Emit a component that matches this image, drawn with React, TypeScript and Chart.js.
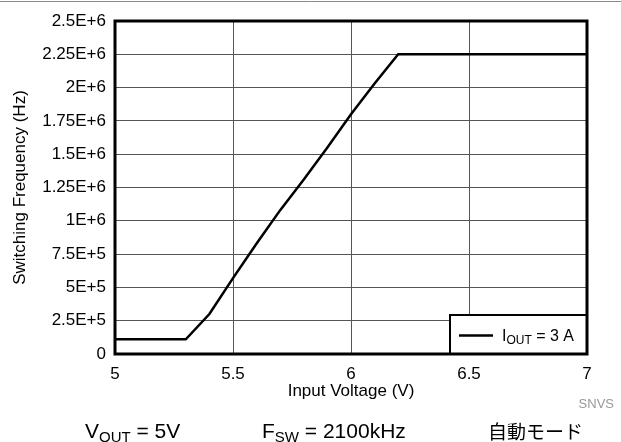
import React, { useEffect, useRef } from "react";
import { Chart, registerables } from "chart.js";

Chart.register(...registerables);

// ---- data ----
const inputVoltage = [5, 5.3, 5.4, 5.5, 5.6, 5.7, 5.8, 5.9, 6.0, 6.1, 6.2, 7];
const switchingFreq = [110000, 110000, 300000, 570000, 830000, 1080000, 1310000, 1550000, 1800000, 2030000, 2250000, 2250000];
const yTickLabels = ["0", "2.5E+5", "5E+5", "7.5E+5", "1E+6", "1.25E+6", "1.5E+6", "1.75E+6", "2E+6", "2.25E+6", "2.5E+6"];
const xTickValues = [5, 5.5, 6, 6.5, 7];

const FONT = "'Liberation Sans', Arial, Helvetica, sans-serif";

function drawSubText(
  ctx: CanvasRenderingContext2D,
  parts: { t: string; sub?: boolean }[],
  x: number,
  y: number,
  size: number,
  subSize: number,
  subDrop: number
) {
  let cx = x;
  ctx.textAlign = "left";
  ctx.textBaseline = "alphabetic";
  for (const p of parts) {
    ctx.font = `${p.sub ? subSize : size}px ${FONT}`;
    ctx.fillText(p.t, cx, p.sub ? y + subDrop : y);
    cx += ctx.measureText(p.t).width;
  }
}

const decorPlugin = {
  id: "decor",
  afterDatasetsDraw(chart: any) {
    const ctx = chart.ctx as CanvasRenderingContext2D;
    const a = chart.chartArea;
    // legend box
    const lw = 137, lh = 39;
    const lx = a.right - lw, ly = a.bottom - lh;
    ctx.save();
    ctx.fillStyle = "#fff";
    ctx.fillRect(lx, ly, lw, lh);
    ctx.strokeStyle = "#000";
    ctx.lineWidth = 2;
    ctx.strokeRect(lx, ly, lw, lh);
    ctx.beginPath();
    ctx.lineWidth = 2.5;
    ctx.moveTo(lx + 9, ly + 20.5);
    ctx.lineTo(lx + 43, ly + 20.5);
    ctx.stroke();
    ctx.fillStyle = "#000";
    drawSubText(ctx, [{ t: "I" }, { t: "OUT", sub: true }, { t: " = 3 A" }], lx + 52, ly + 26, 16, 12, 3);
    ctx.restore();
  },
  afterDraw(chart: any) {
    const ctx = chart.ctx as CanvasRenderingContext2D;
    const a = chart.chartArea;
    ctx.save();
    // top separator
    ctx.strokeStyle = "#888";
    ctx.lineWidth = 1;
    ctx.beginPath();
    ctx.moveTo(0, 1.5);
    ctx.lineTo(621, 1.5);
    ctx.stroke();
    // frame
    ctx.strokeStyle = "#000";
    ctx.lineWidth = 3;
    ctx.strokeRect(a.left, a.top, a.right - a.left, a.bottom - a.top);
    // y title
    ctx.fillStyle = "#000";
    ctx.save();
    ctx.translate(24.5, (a.top + a.bottom) / 2);
    ctx.rotate(-Math.PI / 2);
    ctx.font = `17px ${FONT}`;
    ctx.textAlign = "center";
    ctx.textBaseline = "alphabetic";
    ctx.fillText("Switching Frequency (Hz)", 0, 0);
    ctx.restore();
    // x title
    ctx.font = `17px ${FONT}`;
    ctx.textAlign = "center";
    ctx.textBaseline = "alphabetic";
    ctx.fillText("Input Voltage (V)", (a.left + a.right) / 2, 396);
    // SNVS
    ctx.fillStyle = "#999";
    ctx.font = `13px ${FONT}`;
    ctx.textAlign = "right";
    ctx.fillText("SNVS", 614, 408);
    // captions
    ctx.fillStyle = "#000";
    drawSubText(ctx, [{ t: "V" }, { t: "OUT", sub: true }, { t: " = 5V" }], 85, 438, 21, 15, 4);
    drawSubText(ctx, [{ t: "F" }, { t: "SW", sub: true }, { t: " = 2100kHz" }], 262, 438, 21, 15, 4);
    ctx.font = `19px 'Noto Sans CJK JP', sans-serif`;
    ctx.textAlign = "left";
    ctx.fillText("自動モード", 488, 439);
    ctx.restore();
  },
};

export default function App() {
  const ref = useRef<HTMLCanvasElement | null>(null);
  useEffect(() => {
    if (!ref.current) return;
    const chart = new Chart(ref.current, {
      type: "line",
      data: {
        datasets: [
          {
            label: "IOUT = 3 A",
            data: inputVoltage.map((v, i) => ({ x: v, y: switchingFreq[i] })),
            borderColor: "#000",
            borderWidth: 2.5,
            pointRadius: 0,
            tension: 0,
            fill: false,
          },
        ],
      },
      options: {
        animation: false,
        responsive: false,
        layout: { padding: { top: 21, right: 34, bottom: 0, left: 0 } },
        plugins: { legend: { display: false }, tooltip: { enabled: false } },
        scales: {
          x: {
            type: "linear",
            min: 5,
            max: 7,
            afterBuildTicks: (s: any) => {
              s.ticks = xTickValues.map((v) => ({ value: v }));
            },
            afterFit: (s: any) => {
              s.height = 88;
            },
            ticks: {
              padding: 10,
              color: "#000",
              font: { family: FONT, size: 17 },
              maxRotation: 0,
              callback: (v: any) => String(v),
            },
            grid: { color: "#555", lineWidth: 1, drawTicks: false },
            border: { display: false },
          },
          y: {
            min: 0,
            max: 2500000,
            ticks: {
              stepSize: 250000,
              padding: 9,
              color: "#000",
              font: { family: FONT, size: 17 },
              callback: (_v: any, i: number) => yTickLabels[i],
            },
            afterFit: (s: any) => {
              s.width = 115;
            },
            grid: { color: "#555", lineWidth: 1, drawTicks: false },
            border: { display: false },
          },
        },
      },
      plugins: [decorPlugin],
    });
    return () => chart.destroy();
  }, []);
  return (
    <div style={{ position: "absolute", left: 0, top: 0, width: 621, height: 442, background: "#fff" }}>
      <canvas ref={ref} width={621} height={442} style={{ width: 621, height: 442, display: "block" }} />
    </div>
  );
}
